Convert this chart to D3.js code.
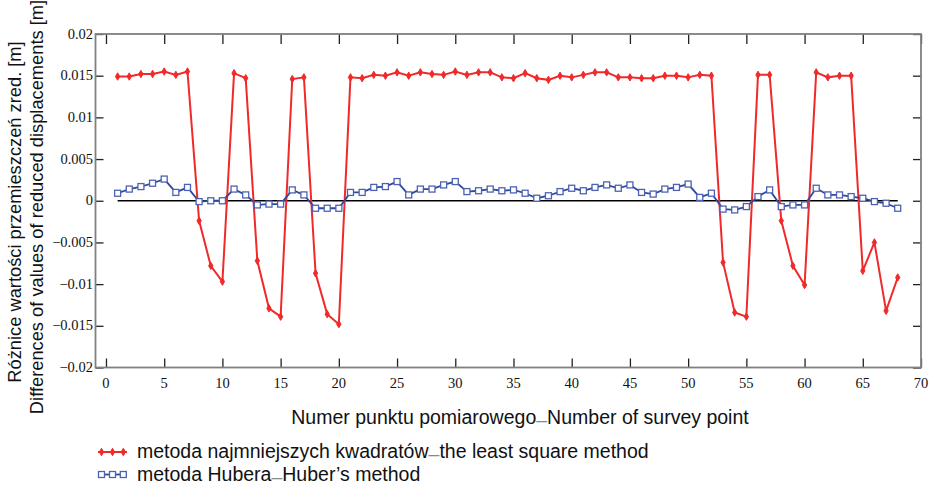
<!DOCTYPE html>
<html>
<head>
<meta charset="utf-8">
<script src="https://cdn.jsdelivr.net/npm/d3@7"></script>
<style>
  html, body { margin: 0; padding: 0; background: #fff; }
  svg { display: block; }
  .serif { font-family: "Liberation Serif", "Times New Roman", "DejaVu Serif", serif; }
  .sans { font-family: "Liberation Sans", Arial, sans-serif; }
</style>
</head>
<body>
<svg id="chart" width="936" height="487"></svg>
<script>
// ---- data ----
const pointNumbers = d3.range(1, 69);
const leastSquares = [
  0.0149, 0.0149, 0.0152, 0.0152, 0.0155, 0.0151, 0.0155, -0.0024, -0.0078, -0.0097,
  0.0153, 0.0147, -0.0072, -0.0129, -0.0139, 0.0146, 0.0148, -0.0087, -0.0136, -0.0148,
  0.0148, 0.0147, 0.0151, 0.0150, 0.0154, 0.0150, 0.0154, 0.0152, 0.0151, 0.0155,
  0.0151, 0.0154, 0.0154, 0.0148, 0.0147, 0.0153, 0.0147, 0.0145, 0.0150, 0.0148,
  0.0151, 0.0154, 0.0154, 0.0148, 0.0148, 0.0147, 0.0147, 0.0150, 0.0150, 0.0148,
  0.0151, 0.0150, -0.0074, -0.0134, -0.0139, 0.0151, 0.0151, -0.0024, -0.0078, -0.0101,
  0.0154, 0.0148, 0.0150, 0.0150, -0.0084, -0.0050, -0.0132, -0.0092
];
const huber = [
  0.0009, 0.0014, 0.0017, 0.0021, 0.0026, 0.0010, 0.0016, -0.0001, 0.0000, 0.0000,
  0.0014, 0.0007, -0.0005, -0.0004, -0.0004, 0.0013, 0.0007, -0.0009, -0.0009, -0.0009,
  0.0010, 0.0010, 0.0016, 0.0017, 0.0023, 0.0007, 0.0014, 0.0014, 0.0019, 0.0023,
  0.0011, 0.0012, 0.0014, 0.0012, 0.0013, 0.0009, 0.0003, 0.0006, 0.0011, 0.0015,
  0.0012, 0.0016, 0.0019, 0.0015, 0.0019, 0.0010, 0.0008, 0.0014, 0.0016, 0.0020,
  0.0004, 0.0009, -0.0010, -0.0011, -0.0007, 0.0005, 0.0013, -0.0007, -0.0005, -0.0005,
  0.0015, 0.0007, 0.0007, 0.0005, 0.0003, -0.0001, -0.0003, -0.0009
];
const xTicks = d3.range(0, 71, 5);
const yTicks = [0.02, 0.015, 0.01, 0.005, 0, -0.005, -0.01, -0.015, -0.02];
const yTickLabels = ["0.02", "0.015", "0.01", "0.005", "0", "\u22120.005", "\u22120.01", "\u22120.015", "\u22120.02"];
const yTitlePl = "Różnice wartości przemieszczeń zred. [m]";
const yTitleEn = "Differences of values of reduced displacements [m]";
const xTitlePl = "Numer punktu pomiarowego";
const xTitleEn = "Number of survey point";
const legendPl = ["metoda najmniejszych kwadratów", "metoda Hubera"];
const legendEn = ["the least square method", "Huber\u2019s method"];

// ---- layout ----
const plotLeft = 95.5, plotRight = 921, plotTop = 34, plotBottom = 367.5;
const svg = d3.select("#chart");
const x = d3.scaleLinear().domain([-0.9, 70]).range([plotLeft, plotRight]);
const y = d3.scaleLinear().domain([-0.02, 0.02]).range([plotBottom, plotTop]);

const redColor = "#f02a2a";
const blueLine = "#2c4a9c";
const blueMark = "#4d62b4";
const titleSize = 19.5;
const yTitleSize = 18.3;

// axes (ticks inward) via d3 axes
const axB = svg.append("g").attr("transform", `translate(0,${plotBottom})`)
  .call(d3.axisTop(x).tickValues(xTicks).tickSize(9).tickFormat(""));
const axT = svg.append("g").attr("transform", `translate(0,${plotTop})`)
  .call(d3.axisBottom(x).tickValues(xTicks).tickSize(10).tickFormat(""));
const axL = svg.append("g").attr("transform", `translate(${plotLeft},0)`)
  .call(d3.axisRight(y).tickValues(yTicks).tickSize(8).tickFormat(""));
const axR = svg.append("g").attr("transform", `translate(${plotRight},0)`)
  .call(d3.axisLeft(y).tickValues(yTicks).tickSize(8).tickFormat(""));
[axB, axT, axL, axR].forEach(g => {
  g.select(".domain").remove();
  g.selectAll(".tick line").attr("stroke", "#222").attr("stroke-width", 1.3);
});

// frame
svg.append("rect").attr("x", plotLeft).attr("y", plotTop)
  .attr("width", plotRight - plotLeft).attr("height", plotBottom - plotTop)
  .attr("fill", "none").attr("stroke", "#808080").attr("stroke-width", 1.8);

// tick labels
svg.append("g").selectAll("text").data(xTicks).join("text")
  .attr("class", "serif")
  .attr("x", d => x(d)).attr("y", 388)
  .attr("text-anchor", "middle")
  .attr("font-size", 14.5).attr("fill", "#111")
  .text(d => d);
svg.append("g").selectAll("text").data(yTicks).join("text")
  .attr("class", "serif")
  .attr("x", 93).attr("y", d => y(d) + 4.5)
  .attr("text-anchor", "end")
  .attr("font-size", 14.5).attr("fill", "#111")
  .text((d, i) => yTickLabels[i]);

// zero line
svg.append("line")
  .attr("x1", x(1)).attr("x2", x(68))
  .attr("y1", y(0)).attr("y2", y(0))
  .attr("stroke", "#000").attr("stroke-width", 1.6);

// series
const lineGen = vals => d3.line().x((d, i) => x(pointNumbers[i])).y(d => y(d))(vals);

svg.append("path").attr("d", lineGen(leastSquares))
  .attr("fill", "none").attr("stroke", redColor).attr("stroke-width", 2);
svg.append("g").selectAll("path").data(leastSquares).join("path")
  .attr("transform", (d, i) => `translate(${x(pointNumbers[i])},${y(d)})`)
  .attr("d", d3.symbol().type(d3.symbolDiamond).size(16))
  .attr("fill", redColor).attr("stroke", redColor).attr("stroke-width", 1);

svg.append("path").attr("d", lineGen(huber))
  .attr("fill", "none").attr("stroke", blueLine).attr("stroke-width", 1.8);
svg.append("g").selectAll("rect").data(huber).join("rect")
  .attr("x", (d, i) => x(pointNumbers[i]) - 3).attr("y", d => y(d) - 3)
  .attr("width", 6).attr("height", 6)
  .attr("fill", "#fff").attr("stroke", blueMark).attr("stroke-width", 1.3);

// y title (two rotated lines)
svg.append("text")
  .attr("class", "sans")
  .attr("transform", "translate(21,212) rotate(-90)")
  .attr("text-anchor", "middle")
  .attr("font-size", yTitleSize).attr("fill", "#111")
  .text(yTitlePl);
svg.append("text")
  .attr("class", "sans")
  .attr("transform", "translate(43,207) rotate(-90)")
  .attr("text-anchor", "middle")
  .attr("font-size", yTitleSize).attr("fill", "#111")
  .text(yTitleEn);

// x title
const xt = svg.append("text")
  .attr("class", "sans")
  .attr("x", 520).attr("y", 424)
  .attr("text-anchor", "middle")
  .attr("font-size", titleSize).attr("fill", "#111");
xt.append("tspan").text(xTitlePl);
xt.append("tspan").attr("fill", "#888").attr("dy", 3).text("\u2013");
xt.append("tspan").attr("dy", -3).text(xTitleEn);

// legend
const legendRows = [
  { y: 452, kind: "red" },
  { y: 474.5, kind: "blue" }
];
legendRows.forEach((row, i) => {
  const g = svg.append("g");
  const mx = [101.5, 112.5, 123.3];
  g.append("line").attr("x1", 98).attr("x2", 127).attr("y1", row.y).attr("y2", row.y)
    .attr("stroke", row.kind === "red" ? redColor : blueLine)
    .attr("stroke-width", row.kind === "red" ? 2 : 1.8);
  if (row.kind === "red") {
    g.selectAll("path").data(mx).join("path")
      .attr("transform", d => `translate(${d},${row.y})`)
      .attr("d", d3.symbol().type(d3.symbolDiamond).size(16))
      .attr("fill", redColor).attr("stroke", redColor);
  } else {
    g.selectAll("rect").data(mx).join("rect")
      .attr("x", d => d - 3).attr("y", row.y - 3).attr("width", 6).attr("height", 6)
      .attr("fill", "#fff").attr("stroke", blueMark).attr("stroke-width", 1.3);
  }
  const t = g.append("text").attr("class", "sans").attr("x", 137).attr("y", row.y + 6)
    .attr("font-size", titleSize).attr("fill", "#111");
  t.append("tspan").text(legendPl[i]);
  t.append("tspan").attr("fill", "#888").attr("dy", 3).text("\u2013");
  t.append("tspan").attr("dy", -3).text(legendEn[i]);
});
</script>
</body>
</html>
